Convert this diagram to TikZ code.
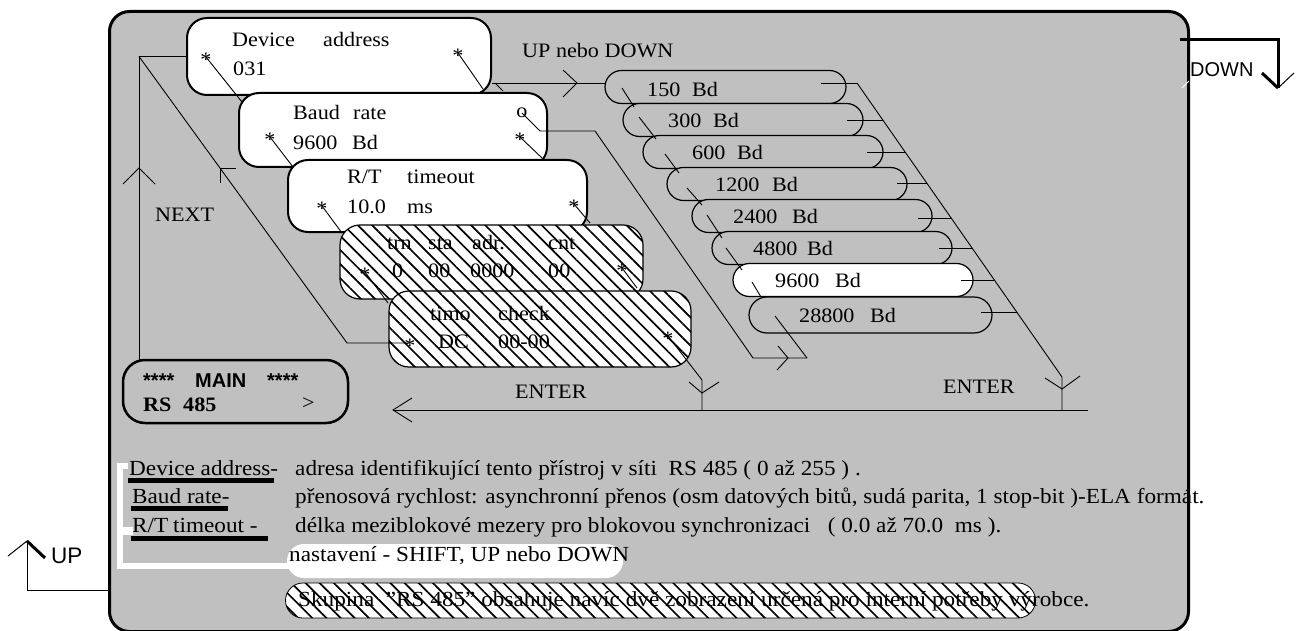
\documentclass[tikz,border=0pt]{standalone}
\usepackage{fontspec}
\setmainfont{Liberation Serif}[FakeStretch=1.08]
\setsansfont{Liberation Sans}
\usetikzlibrary{patterns.meta}
\definecolor{bg}{HTML}{C0C0C0}
\newcommand\txtsz{\fontsize{20.5}{24}\selectfont}
\newcommand\notesz{\fontsize{21.5}{25}\selectfont}
\begin{document}
\begin{tikzpicture}[x=1pt,y=-1pt,
  t/.style={font=\txtsz, inner sep=0, anchor=base west},
  n/.style={font=\notesz, inner sep=0, anchor=base west},
  sf/.style={font=\sffamily\fontsize{20}{23}\selectfont, inner sep=0, anchor=base west},
  ast/.style={font=\txtsz, inner sep=0, anchor=center, yshift=-2.5pt},
  ln/.style={line width=0.9},
  hatch/.style={pattern={Lines[angle=-45,distance=10pt,line width=1.7pt]}},
  wbox/.style={draw, line width=2, fill=white, rounded corners=20, inner sep=0},
  hbox/.style={draw, line width=1.2, preaction={fill=white}, hatch, rounded corners=20, inner sep=0},
  pill/.style={draw, line width=1.2, fill=bg, rounded corners=16.5, inner sep=0, minimum height=33},
  uline/.style={line width=5},
  wline/.style={white, line width=6},
]
\useasboundingbox (0,0) rectangle (1298,631);
% frame
\node[draw, line width=3, fill=bg, rounded corners=20, minimum width=1079, minimum height=620, anchor=north west, inner sep=0] (frame) at (108,10) {};

% outside arrows
\coordinate (dn0) at (1180,40);
\coordinate (dn1) at (1278,88);
\draw[line width=3] (dn0) -| (dn1);
\draw[line width=3] (1262,73) -- (dn1);
\draw[line width=1] (dn1) -- (1294,73);
\draw[white, line width=1] (1182,88) -- (1189,81);
\node[sf] (down) at (1190,77) {DOWN};

\coordinate (up0) at (27,541);
\coordinate (up1) at (108,590);
\draw[line width=1] (up1) -| (up0);
\draw[line width=1] (8,556) -- (up0);
\draw[line width=3] (up0) -- (45,558);
\node[sf, font=\sffamily\fontsize{22.5}{25}\selectfont] (up) at (51,563) {UP};

% boxes
\node[wbox, minimum width=304, minimum height=77] (dev) at (339,56.5) {};
\node[wbox, minimum width=308, minimum height=74] (baud) at (393,130) {};
\node[wbox, minimum width=299, minimum height=72] (rt) at (437.5,196) {};
\node[hbox, minimum width=303, minimum height=74] (trn) at (491.5,262) {};
\node[hbox, minimum width=302, minimum height=76] (timo) at (540,329) {};
\node[draw, line width=2.5, rounded corners=22, minimum width=225, minimum height=63, inner sep=0] (main) at (235.5,391.5) {};

% box texts
\node[t] (dv1) at (232,47) {Device};
\node[t] (dv2) at (323,47) {address};
\node[t] (dv3) at (233,76) {031};
\node[t] (bd1) at (293,120) {Baud};
\node[t] (bd2) at (353,120) {rate};
\node[t] (bd3) at (293,150) {9600};
\node[t] (bd4) at (352,150) {Bd};
\node[t] (rt1) at (347,184) {R/T};
\node[t] (rt2) at (407,184) {timeout};
\node[t] (rt3) at (347,214) {10.0};
\node[t] (rt4) at (407,214) {ms};
\node[t] (tr1) at (387,249) {trn};
\node[t] (tr2) at (428,249) {sta};
\node[t] (tr3) at (472,249) {adr.};
\node[t] (tr4) at (548,249) {cnt};
\node[t] (tr5) at (392,277) {0};
\node[t] (tr6) at (428,277) {00};
\node[t] (tr7) at (470,277) {0000};
\node[t] (tr8) at (548,277) {00};
\node[t] (tm1) at (430,320) {timo};
\node[t] (tm2) at (498,320) {check};
\node[t] (tm3) at (438,348) {DC};
\node[t] (tm4) at (498,348) {00-00};

\node[sf, font=\sffamily\bfseries\fontsize{20}{23}\selectfont] (m1) at (143,387) {****};
\node[sf, font=\sffamily\bfseries\fontsize{20}{23}\selectfont] (m2) at (195,387) {MAIN};
\node[sf, font=\sffamily\bfseries\fontsize{20}{23}\selectfont] (m3) at (267,387) {****};
\node[t, font=\txtsz\bfseries] (m4) at (143,411) {RS};
\node[t, font=\txtsz\bfseries] (m5) at (183,411) {485};
\node[t] (m6) at (302,409) {>};

% asterisk points
\coordinate (s1) at (206,57);  \coordinate (e1) at (242,102);
\coordinate (s2) at (458,53);  \coordinate (e2) at (483,89);
\coordinate (s3) at (270,137); \coordinate (e3) at (293,167);
\coordinate (s4) at (520,137); \coordinate (e4) at (542,158);
\coordinate (s5) at (322,206); \coordinate (e5) at (342,233);
\coordinate (s6) at (574,204); \coordinate (e6) at (590,223);
\coordinate (s7) at (365,272); \coordinate (e7) at (388,303);
\coordinate (s8) at (622,268); \coordinate (e8) at (637,288);
\coordinate (s9) at (410,343);
\coordinate (s10) at (668,336);
\coordinate (so) at (522,113);
\foreach \i/\a/\b in {1/s1/e1,2/s2/e2,3/s3/e3,4/s4/e4,5/s5/e5,6/s6/e6,7/s7/e7,8/s8/e8}
  \draw[ln] (\a) -- (\b);
\foreach \s in {s1,s2,s3,s4,s5,s6,s7,s8,s9,s10}
  \node[ast] (a\s) at (\s) {*};
\node[font=\txtsz, inner sep=0] (ao) at (so) {o};

% NEXT loop
\coordinate (nx0) at (139,56.5);
\coordinate (nx1) at (139,360);
\draw[ln] (dev.west) -- (nx0) -- (nx1);
\draw[ln] (123,184) -- (139,168) -- (155,184);
\node[t] (next) at (155,222) {NEXT};
\coordinate (dg1) at (347,343);
\draw[ln] (nx0) -- (dg1) -- (s9);
\draw[ln] (220,183) -- (220,168) -- (236,168);

% UP nebo DOWN arrow
\coordinate (ua0) at (492,83);
\draw[ln] (ua0) -- (605,83);
\draw[ln] (563,70) -- (577,83) -- (563,97);
\draw[ln] (495,83) -- (503,91);
\node[t] (upd) at (522,58) {UP nebo DOWN};

% o line
\draw[ln] (so) -- (540,131) -- (595,131) -- (753,358) -- (807,358);
\draw[ln] (778,346) -- (788,358) -- (777,370);

% timo to ENTER
\coordinate (en0) at (702,410);
\draw[ln] (s10) -- (702,380) -- (en0);
\draw[ln] (689,382) -- (702,393) -- (719,382);

% ENTER line
\coordinate (el) at (393,410);
\coordinate (er) at (1088,410);
\draw[ln] (er) -- (el);
\draw[ln] (412,398) -- (el) -- (412,422);
\node[t] (ent1) at (515,398) {ENTER};
\node[t] (ent2) at (943,393) {ENTER};

% baud pills
\node[pill, minimum width=241] (p1) at (725.5,87) {};
\node[pill, minimum width=240] (p2) at (743,120) {};
\node[pill, minimum width=240] (p3) at (763,152) {};
\node[pill, minimum width=240] (p4) at (787,184) {};
\node[pill, minimum width=240] (p5) at (812,216) {};
\node[pill, minimum width=240] (p6) at (832,248) {};
\node[pill, minimum width=240, fill=white] (p7) at (853,280) {};
\node[pill, minimum width=243, minimum height=36, rounded corners=18] (p8) at (870.5,315) {};
\node[t] at (647,97) (q1) {150}; \node[t] (r1) at (692,97) {Bd};
\node[t] at (668,128) (q2) {300}; \node[t] (r2) at (713,128) {Bd};
\node[t] at (692,160) (q3) {600}; \node[t] (r3) at (737,160) {Bd};
\node[t] at (715,192) (q4) {1200}; \node[t] (r4) at (772,192) {Bd};
\node[t] at (733,223) (q5) {2400}; \node[t] (r5) at (792,223) {Bd};
\node[t] at (753,255) (q6) {4800}; \node[t] (r6) at (807,255) {Bd};
\node[t] at (775,287) (q7) {9600}; \node[t] (r7) at (835,287) {Bd};
\node[t] at (799,322) (q8) {28800}; \node[t] (r8) at (870,322) {Bd};

\draw[ln] (622,88) -- (634,107);
\draw[ln] (639,117) -- (656,139);
\draw[ln] (665,154) -- (679,173);
\draw[ln] (687,188) -- (702,205);
\draw[ln] (707,215) -- (722,238);
\draw[ln] (726,248) -- (742,270);
\draw[ln] (752,282) -- (761,297);
\draw[ln] (775,316) -- (807,358);

\coordinate (rd0) at (857,83);
\coordinate (rd1) at (1062,377);
\draw[ln] (rd0) -- (rd1) -- (1062,410);
\draw[ln] (1045,378) -- (1062,389) -- (1080,376);
\draw[ln] (821,83) -- (857,83);
\draw[ln] (847,120) -- (883,120);
\draw[ln] (867,152) -- (905,152);
\draw[ln] (897,183) -- (927,183);
\draw[ln] (918,218) -- (951,218);
\draw[ln] (939,248) -- (972,248);
\draw[ln] (961,280) -- (994,280);
\draw[ln] (981,312) -- (1017,312);

% bottom notes
\node[fill=white, rounded corners=17, minimum width=336, minimum height=34, inner sep=0] (setp) at (455,561) {};
\node[draw, line width=0.8, preaction={fill=white}, hatch, rounded corners=17.5, minimum width=750, minimum height=35, inner sep=0] (grp) at (660.5,600.5) {};

\node[n] (l1) at (129,475) {Device address-};
\node[n] (l2) at (132,503) {Baud rate-};
\node[n] (l3a) at (132,532) {R/T};
\node[n] (l3b) at (173,532) {timeout -};
\draw[uline] (128,480) -- (274,480);
\draw[uline] (131,508.5) -- (228,508.5);
\draw[uline] (131,538) -- (268,538);

\node[n] (x1) at (295,475) {adresa identifikující tento přístroj v síti\ \ RS 485 ( 0 až 255 ) .};
\node[n] (x2) at (295,503) {přenosová rychlost: asynchronní přenos (osm datových bitů, sudá parita, 1 stop-bit )-ELA formát.};
\node[n] (x3) at (295,532) {délka meziblokové mezery pro blokovou synchronizaci\ \ \ ( 0.0 až 70.0\ \ ms ).};
\node[n] (x4) at (289,561) {nastavení - SHIFT, UP nebo DOWN};
\node[n] (x5) at (298,606) {Skupina\ \ "RS 485" obsahuje navíc dvě zobrazení určená pro interní potřeby výrobce.};

% white bracket
\draw[wline] (128,466) -- (120,466) -- (120,566) -- (292,566);
\draw[white, line width=8] (120,531) -- (133,531);
\end{tikzpicture}
\end{document}
